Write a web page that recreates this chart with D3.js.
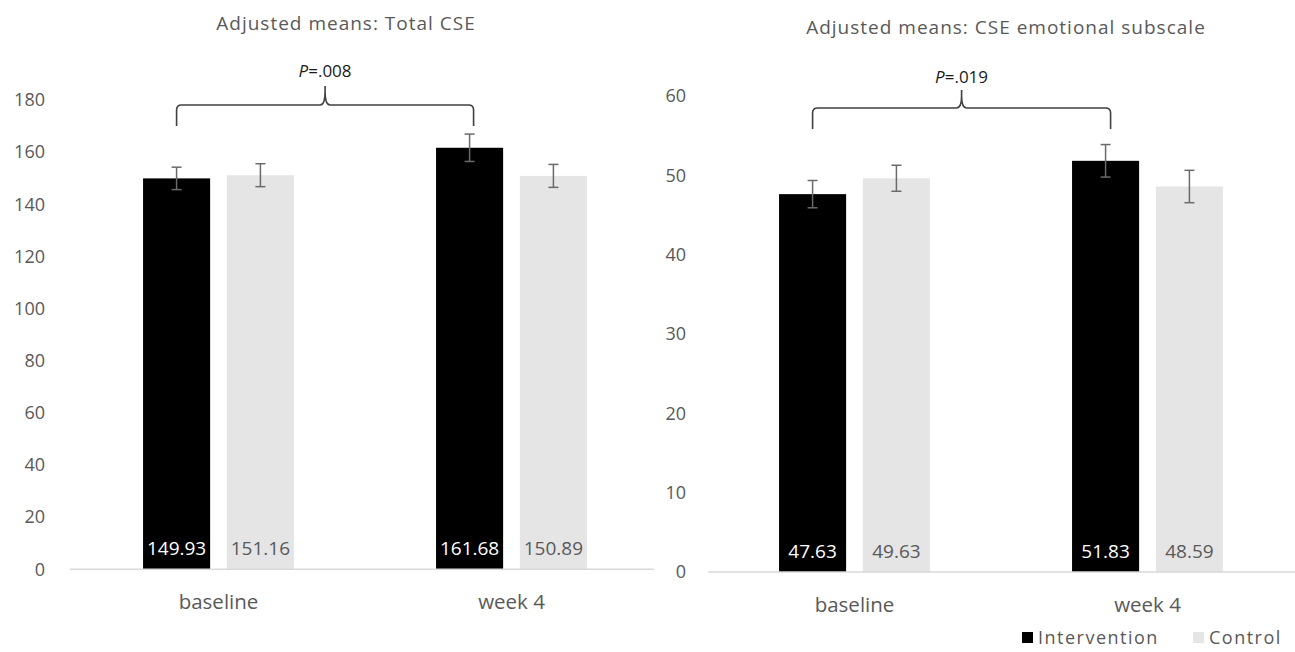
<!DOCTYPE html>
<html>
<head>
<meta charset="utf-8">
<script src="https://cdn.jsdelivr.net/npm/d3@7"></script>
<style>
  body { margin: 0; background: #fff; }
  svg { display: block; font-family: "Open Sans", sans-serif; }
</style>
</head>
<body>
<script>
'use strict'

const categories = ['baseline', 'week 4']
const groups = ['Intervention', 'Control']

const totalIntervention = [149.93, 161.68]
const totalControl = [151.16, 150.89]
const totalErrIntervention = [4.3, 5.25]
const totalErrControl = [4.4, 4.4]
const totalTicks = [0, 20, 40, 60, 80, 100, 120, 140, 160, 180]

const emoIntervention = [47.63, 51.83]
const emoControl = [49.63, 48.59]
const emoErrIntervention = [1.72, 2.05]
const emoErrControl = [1.64, 2.04]
const emoTicks = [0, 10, 20, 30, 40, 50, 60]

const colors = { Intervention: '#000000', Control: '#e5e5e5' }
const labelColors = { Intervention: '#ffffff', Control: '#595959' }

const W = 1295, H = 652

const svg = d3.select('body').append('svg')
    .attr('width', W)
    .attr('height', H)

const charts = [
  {
    title: 'Adjusted means: Total CSE', titleX: 346, titleY: 23,
    pText: '.008',
    inter: totalIntervention, ctrl: totalControl,
    errI: totalErrIntervention, errC: totalErrControl,
    ticks: totalTicks, max: 180,
    y0: 569.3, y1: 100, x0: 72, x1: 658, lineX0: 70, lineX1: 654, tickX: 45,
    bracket: { yLine: 105, yBottom: 126, yPeak: 86, extra: 4, textY: 71 }
  },
  {
    title: 'Adjusted means: CSE emotional subscale', titleX: 1006, titleY: 27,
    pText: '.019',
    inter: emoIntervention, ctrl: emoControl,
    errI: emoErrIntervention, errC: emoErrControl,
    ticks: emoTicks, max: 60,
    y0: 572, y1: 96, x0: 708, x1: 1294, lineX0: 708, lineX1: 1295, tickX: 686,
    bracket: { yLine: 108, yBottom: 129, yPeak: 90, extra: 5, textY: 77 }
  }
]

charts.forEach(c => {
  const g = svg.append('g')

  const y = d3.scaleLinear().domain([0, c.max]).range([c.y0, c.y1])
  const x = d3.scaleBand().domain(categories).range([c.x0, c.x1])
    .paddingInner(0.485).paddingOuter(0.2425)
  const xs = d3.scaleBand().domain(groups).range([0, x.bandwidth()]).paddingInner(0.2)

  const rows = []
  categories.forEach((cat, i) => {
    rows.push({ cat, grp: 'Intervention', v: c.inter[i], e: c.errI[i] })
    rows.push({ cat, grp: 'Control', v: c.ctrl[i], e: c.errC[i] })
  })

  // title
  g.append('text')
    .attr('x', c.titleX)
    .attr('y', c.titleY)
    .attr('dy', '0.35em')
    .attr('text-anchor', 'middle')
    .style('font-size', '19px')
    .style('letter-spacing', '1px')
    .style('fill', '#595959')
    .text(c.title)

  // y tick labels
  const yAxis = d3.axisLeft(y).tickValues(c.ticks).tickSize(0).tickPadding(0)
  const ya = g.append('g')
      .attr('transform', 'translate(' + c.tickX + ',0)')
      .call(yAxis)
  ya.select('.domain').remove()
  ya.selectAll('text')
    .style('font-size', '18px')
    .style('font-family', '"Open Sans", sans-serif')
    .style('fill', '#595959')

  // bars
  g.selectAll('.bar')
      .data(rows)
    .enter().append('rect')
      .attr('class', 'bar')
      .attr('x', d => x(d.cat) + xs(d.grp))
      .attr('width', xs.bandwidth())
      .attr('y', d => y(d.v))
      .attr('height', d => y(0) - y(d.v))
      .style('fill', d => colors[d.grp])

  // x axis line
  g.append('line')
    .attr('x1', c.lineX0).attr('x2', c.lineX1)
    .attr('y1', y(0)).attr('y2', y(0))
    .style('stroke', '#d9d9d9')
    .style('stroke-width', 1.5)

  // category labels
  const xAxis = d3.axisBottom(x).tickSize(0).tickPadding(0)
  const xa = g.append('g')
      .attr('transform', 'translate(0,' + (y(0) + 33) + ')')
      .call(xAxis)
  xa.select('.domain').remove()
  xa.selectAll('text')
    .attr('dy', '0.35em')
    .attr('y', 0)
    .style('font-size', '20.5px')
    .style('font-family', '"Open Sans", sans-serif')
    .style('fill', '#595959')

  // error bars
  const eb = g.selectAll('.err')
      .data(rows)
    .enter().append('g')
      .attr('class', 'err')
      .attr('transform', d => 'translate(' + (x(d.cat) + xs(d.grp) + xs.bandwidth() / 2) + ',0)')
  eb.append('line')
    .attr('y1', d => y(d.v + d.e)).attr('y2', d => y(d.v - d.e))
  eb.append('line')
    .attr('x1', -5).attr('x2', 5)
    .attr('y1', d => y(d.v + d.e)).attr('y2', d => y(d.v + d.e))
  eb.append('line')
    .attr('x1', -5).attr('x2', 5)
    .attr('y1', d => y(d.v - d.e)).attr('y2', d => y(d.v - d.e))
  eb.selectAll('line')
    .style('stroke', '#6a6a6a')
    .style('stroke-width', 1.5)

  // value labels
  g.selectAll('.vlabel')
      .data(rows)
    .enter().append('text')
      .attr('class', 'vlabel')
      .attr('x', d => x(d.cat) + xs(d.grp) + xs.bandwidth() / 2)
      .attr('y', y(0) - 21)
      .attr('dy', '0.35em')
      .attr('text-anchor', 'middle')
      .style('font-size', '19px')
      .style('fill', d => labelColors[d.grp])
      .text(d => d.v.toFixed(2))

  // significance bracket
  const b = c.bracket
  const bx1 = x(categories[0]) + xs('Intervention') + xs.bandwidth() / 2
  const bx2 = x(categories[1]) + xs('Intervention') + xs.bandwidth() / 2 + b.extra
  const bm = (bx1 + bx2) / 2
  const r = 5
  const path = d3.path()
  path.moveTo(bx1, b.yBottom)
  path.lineTo(bx1, b.yLine + r)
  path.quadraticCurveTo(bx1, b.yLine, bx1 + r, b.yLine)
  path.lineTo(bm - r, b.yLine)
  path.quadraticCurveTo(bm, b.yLine, bm, b.yPeak + 6)
  path.lineTo(bm, b.yPeak)
  path.moveTo(bm, b.yPeak + 6)
  path.quadraticCurveTo(bm, b.yLine, bm + r, b.yLine)
  path.lineTo(bx2 - r, b.yLine)
  path.quadraticCurveTo(bx2, b.yLine, bx2, b.yLine + r)
  path.lineTo(bx2, b.yBottom)
  g.append('path')
    .attr('d', path.toString())
    .style('fill', 'none')
    .style('stroke', '#404040')
    .style('stroke-width', 1.6)

  const pt = g.append('text')
    .attr('x', bm)
    .attr('y', b.textY)
    .attr('dy', '0.35em')
    .attr('text-anchor', 'middle')
    .style('font-size', '17px')
    .style('fill', '#1a1a1a')
  pt.append('tspan').style('font-style', 'italic').text('P')
  pt.append('tspan').text('=' + c.pText)
})

// legend
const legend = svg.append('g')
    .attr('transform', 'translate(1022,638)')
const legendX = { Intervention: 0, Control: 171 }
groups.forEach(grp => {
  legend.append('rect')
    .attr('x', legendX[grp])
    .attr('y', -6)
    .attr('width', 11)
    .attr('height', 11)
    .style('fill', colors[grp])
  legend.append('text')
    .attr('x', legendX[grp] + 16)
    .attr('y', 0)
    .attr('dy', '0.35em')
    .style('font-size', '18px')
    .style('letter-spacing', '1.5px')
    .style('fill', '#595959')
    .text(grp)
})
</script>
</body>
</html>
